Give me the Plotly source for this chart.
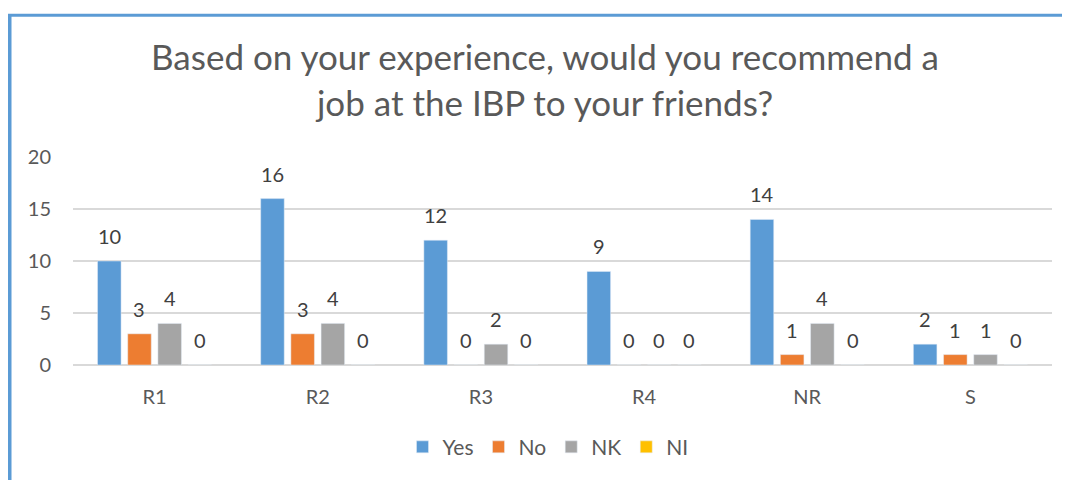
import plotly.graph_objects as go

categories = ["R1", "R2", "R3", "R4", "NR", "S"]
yes_vals = [10, 16, 12, 9, 14, 2]
no_vals = [3, 3, 0, 0, 1, 1]
nk_vals = [4, 4, 2, 0, 4, 1]
ni_vals = [0, 0, 0, 0, 0, 0]

series = [
    ("Yes", yes_vals, "#5B9BD5"),
    ("No", no_vals, "#ED7D31"),
    ("NK", nk_vals, "#A5A5A5"),
    ("NI", ni_vals, "#FFC000"),
]

FONT = "Lato"
TXT = "#595959"

# page body adds an 8px offset; figure sized so it fills the window
OFF = 8
W, H = 1070 - OFF, 480 - OFF
L, R, T, B = 73 - OFF, 18, 157 - OFF, H - (367 - OFF)
pw, ph = W - L - R, H - T - B
BARGAP = 0.26
slot = pw / len(categories) * (1 - BARGAP) / len(series)


def px_x(x):
    return (x - OFF - L) / pw


def px_y(y):
    return (H - B - (y - OFF)) / ph


fig = go.Figure()
annotations = []
for i, (name, vals, col) in enumerate(series):
    fig.add_trace(go.Bar(name=name, x=categories, y=vals, marker_color=col))
    for c, v in zip(categories, vals):
        annotations.append(dict(
            x=c, y=v, xref="x", yref="y", text=str(v), showarrow=False,
            xshift=(i - (len(series) - 1) / 2) * slot, yshift=25,
            yanchor="middle", font=dict(size=20, color="#404040", family=FONT),
        ))

fig.update_layout(
    width=W, height=H,
    margin=dict(l=L, r=R, t=T, b=B),
    paper_bgcolor="white", plot_bgcolor="white",
    font=dict(family=FONT, color=TXT),
    title=dict(
        text="Based on your experience, would you recommend a<br>job at the IBP to your friends?",
        x=(545 - OFF) / W, xanchor="center", y=1 - (70 - OFF) / H, yanchor="middle",
        font=dict(size=35, color=TXT, family=FONT),
    ),
    barmode="group", bargap=BARGAP, bargroupgap=0.22,
    legend=dict(orientation="h", x=px_x(548), xanchor="center", y=px_y(450), yanchor="middle",
                font=dict(size=21, color=TXT, family=FONT), itemwidth=30),
    xaxis=dict(showgrid=False, showline=False, ticks="",
               tickfont=dict(size=20, color=TXT, family=FONT), ticklabelstandoff=18),
    yaxis=dict(range=[0, 20], dtick=5, showgrid=True, gridcolor="#D9D9D9", gridwidth=1.5,
               zeroline=True, zerolinecolor="#D9D9D9", zerolinewidth=1.5,
               tickfont=dict(size=20, color=TXT, family=FONT), ticks="",
               ticklabelstandoff=21),
    annotations=annotations,
    shapes=[
        dict(type="line", xref="paper", yref="paper", x0=px_x(7.5), x1=px_x(1075),
             y0=px_y(14), y1=px_y(14), line=dict(color="#5B9BD5", width=3)),
        dict(type="line", xref="paper", yref="paper", x0=px_x(9.5), x1=px_x(9.5),
             y0=px_y(12.5), y1=px_y(485), line=dict(color="#5B9BD5", width=4)),
    ],
)

fig.write_html("out.html")
